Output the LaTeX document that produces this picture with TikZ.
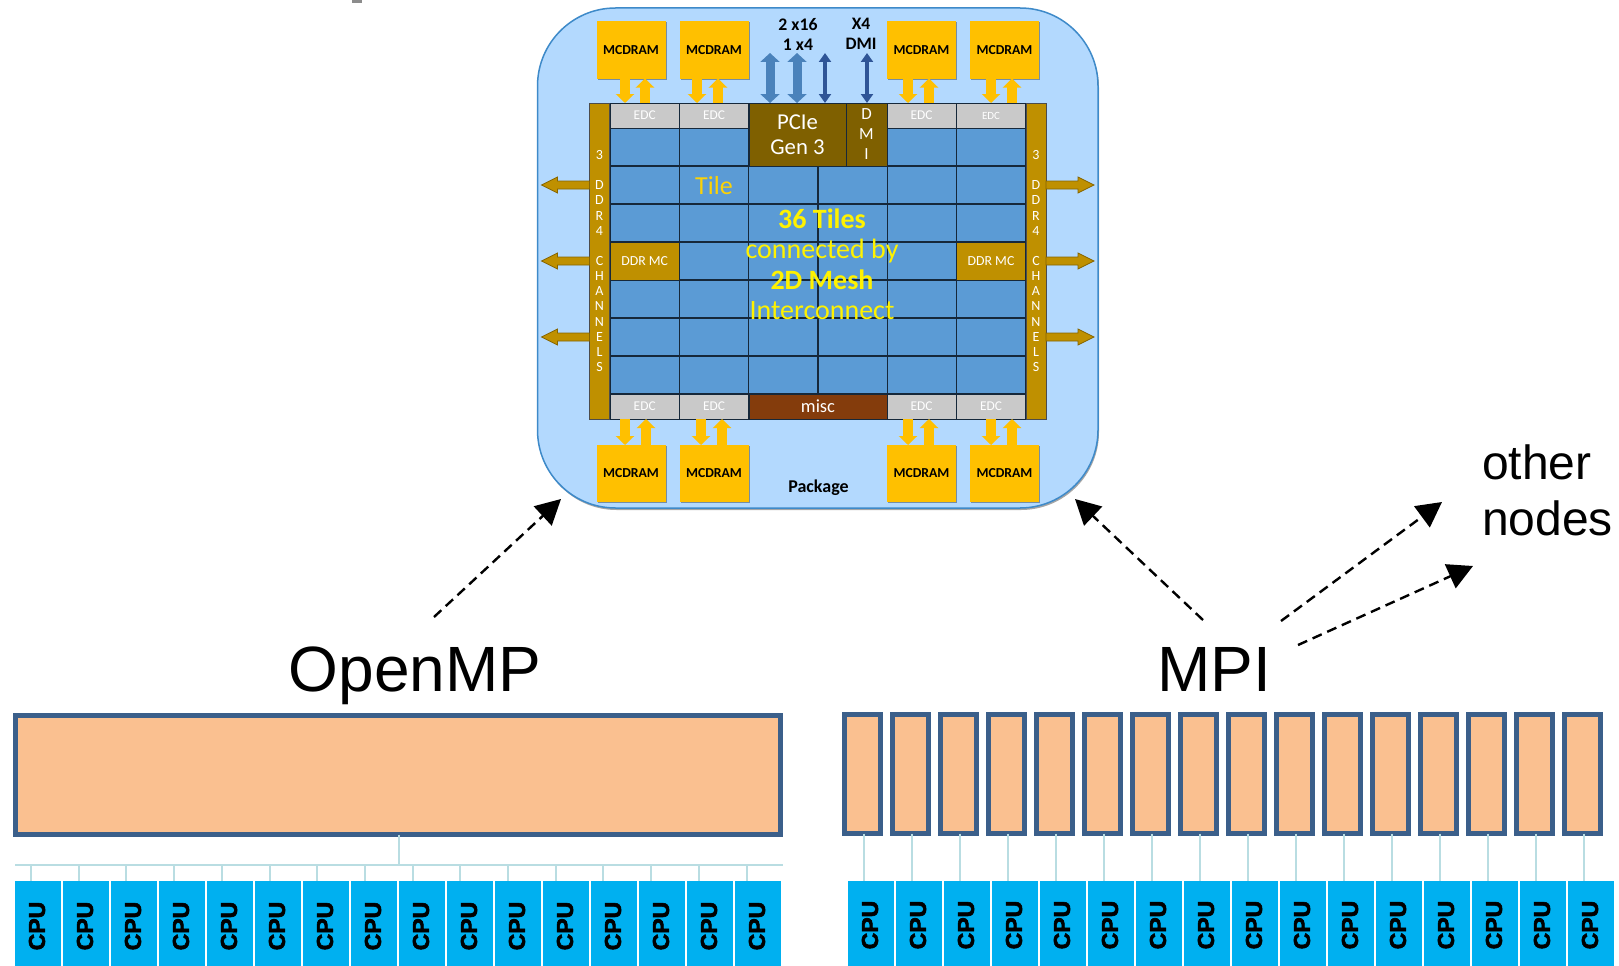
\documentclass[tikz,border=0pt]{standalone}
\usepackage{fontspec}
\setmainfont{Liberation Sans}
\newfontfamily\calib{Carlito}
\newfontfamily\heavy[BoldFeatures={FakeBold=2.5}]{Liberation Sans}
\usetikzlibrary{arrows.meta,positioning,calc,shadows}
\definecolor{pkgfill}{HTML}{B3D9FE}
\definecolor{pkgline}{HTML}{3E8AC9}
\definecolor{tileblue}{HTML}{5B9BD5}
\definecolor{gold}{HTML}{FFC000}
\definecolor{ddrgold}{HTML}{BF9000}
\definecolor{pciebrown}{HTML}{7F6000}
\definecolor{miscbrown}{HTML}{843C0C}
\definecolor{edcgrey}{HTML}{C9C9C9}
\definecolor{corefill}{HTML}{FAC090}
\definecolor{coreline}{HTML}{3B5F8A}
\definecolor{cpublue}{HTML}{00B0F0}
\definecolor{wireblue}{HTML}{B9DDE2}
\definecolor{gridline}{HTML}{16283A}
\definecolor{pciearrow}{HTML}{4A82BB}
\definecolor{dmiarrow}{HTML}{2F5597}
\newcommand{\fsize}[1]{\fontsize{#1}{#1}\selectfont}

\begin{document}
\begin{tikzpicture}[
  x=1pt,y=-1pt,
  every node/.style={inner sep=0pt,outer sep=0pt},
  mcdram/.style={fill=gold,minimum width=69pt,minimum height=57pt,font=\calib\bfseries\fsize{13.7},
    drop shadow={shadow xshift=1pt,shadow yshift=-1pt,opacity=0.35,fill=black}},
  edc/.style={fill=edcgrey,draw=gridline,line width=0.8pt,minimum width=69.3pt,minimum height=25pt,text=white,font=\calib\fsize{13.4}},
  brownbox/.style={draw=gridline,line width=0.8pt,text=white,align=center,font=\calib},
  sidebar/.style={fill=ddrgold,draw=black!70,line width=0.8pt,minimum width=20pt,minimum height=316pt},
  sidetext/.style={text=white,align=center,font=\calib\fontsize{14}{15.15}\selectfont},
  tile/.style={fill=tileblue,draw=gridline,line width=1.2pt},
  yarr/.style={-{Triangle[length=9pt,width=18pt]},line width=10pt,gold},
  pciearr/.style={{Triangle[length=9pt,width=19pt]}-{Triangle[length=9pt,width=19pt]},line width=9pt,pciearrow},
  dmiarr/.style={{Triangle[length=9pt,width=12pt]}-{Triangle[length=9pt,width=12pt]},line width=4pt,dmiarrow},
  ddrarr/.style={fill=ddrgold,draw=ddrgold!70!black,line width=0.7pt},
  meshtext/.style={text=yellow,font=\calib\fsize{28}},
  dasharr/.style={line width=2.4pt,dash pattern=on 10pt off 6pt,-{Triangle[length=25pt,width=26pt]}},
  core/.style={fill=corefill,draw=coreline,line width=5pt},
  cpu/.style={fill=cpublue,minimum width=46pt,minimum height=85pt},
  wire/.style={wireblue,line width=2pt},
  cputext/.style={rotate=90,font=\heavy\bfseries\fsize{23}}
]
\useasboundingbox (0,0) rectangle (1619,966);
\fill[black!45] (352,0) rectangle (362,3);

% package outline
\draw[fill=pkgfill,draw=pkgline,line width=1.5pt,rounded corners=78pt,
  drop shadow={shadow xshift=1pt,shadow yshift=-2pt,opacity=0.35,fill=black}] (537.5,8) rectangle (1098,508);

% tiles
\foreach \c in {0,...,5}
  \foreach \r in {0,...,6}
    \draw[tile] ({610+69.33*\c},{128+38*\r}) rectangle ++(69.33,38);

% borders of the die
\node[sidebar] (barL) at (599.5,261) {};
\node[sidebar] (barR) at (1036,261) {};
\node[sidetext] (chanL) at (599.5,261) {3\\ \\D\\D\\R\\4\\ \\C\\H\\A\\N\\N\\E\\L\\S};
\node[sidetext] (chanR) at (1036,261) {3\\ \\D\\D\\R\\4\\ \\C\\H\\A\\N\\N\\E\\L\\S};

\node[edc] (edcT1) at (644.7,115.5) {\raisebox{-0.5pt}{EDC}};
\node[edc] (edcT2) at (714,115.5) {\raisebox{-0.5pt}{EDC}};
\node[edc] (edcT3) at (921.5,115.5) {\raisebox{-0.5pt}{EDC}};
\node[edc,font=\calib\fsize{11}] (edcT4) at (991,115.5) {\raisebox{-0.5pt}{EDC}};
\node[edc] (edcB1) at (644.7,406.5) {\raisebox{-0.5pt}{EDC}};
\node[edc] (edcB2) at (714,406.5) {\raisebox{-0.5pt}{EDC}};
\node[edc] (edcB3) at (921.5,406.5) {\raisebox{-0.5pt}{EDC}};
\node[edc] (edcB4) at (991,406.5) {\raisebox{-0.5pt}{EDC}};

\node[brownbox,fill=pciebrown,minimum width=97pt,minimum height=63pt,font=\calib\fontsize{22.7}{25.5}\selectfont] (pcie) at (797.5,134.5) {PCIe\\Gen 3};
\node[brownbox,fill=pciebrown,minimum width=41pt,minimum height=63pt,font=\calib\fontsize{17}{20}\selectfont] (dmibox) at (866.5,134.5) {D\\M\\I};
\node[brownbox,fill=ddrgold,minimum width=69.3pt,minimum height=38pt,font=\calib\fsize{13.8}] (ddrL) at (644.7,261) {DDR MC};
\node[brownbox,fill=ddrgold,minimum width=69.3pt,minimum height=38pt,font=\calib\fsize{13.8}] (ddrR) at (991,261) {DDR MC};
\node[brownbox,fill=miscbrown,minimum width=138pt,minimum height=25pt,font=\calib\fsize{18.5}] (misc) at (818,406.5) {\raisebox{-0.7pt}{misc}};

% memory
\node[mcdram] (mcT1) at (631,50) {MCDRAM};
\node[mcdram] (mcT2) at (714,50) {MCDRAM};
\node[mcdram] (mcT3) at (921.5,50) {MCDRAM};
\node[mcdram] (mcT4) at (1004.5,50) {MCDRAM};
\node[mcdram] (mcB1) at (631,473.5) {MCDRAM};
\node[mcdram] (mcB2) at (714,473.5) {MCDRAM};
\node[mcdram] (mcB3) at (921.5,473.5) {MCDRAM};
\node[mcdram] (mcB4) at (1004.5,473.5) {MCDRAM};

\foreach \i/\d/\u in {1/-6/14,2/-17/4,3/-13.5/7.5,4/-13.5/7.5} {
  \draw[yarr] ([xshift=\d pt]mcT\i.south) -- ([xshift=\d pt]mcT\i.south |- edcT\i.north);
  \draw[yarr] ([xshift=\u pt]mcT\i.south |- edcT\i.north) -- ([xshift=\u pt]mcT\i.south);
}
\foreach \i/\d/\u in {1/-6/15,2/-13/8,3/-13.5/7.5,4/-13.5/7.5} {
  \draw[yarr] ([xshift=\d pt]mcB\i.north |- edcB\i.south) -- ([xshift=\d pt]mcB\i.north);
  \draw[yarr] ([xshift=\u pt]mcB\i.north) -- ([xshift=\u pt]mcB\i.north |- edcB\i.south);
}

% io arrows
\coordinate (ioA) at (770,53);
\coordinate (ioB) at (797,53);
\coordinate (ioC) at (825,53);
\coordinate (ioD) at (867,53);
\draw[pciearr] (ioA) -- (ioA |- pcie.north);
\draw[pciearr] (ioB) -- (ioB |- pcie.north);
\draw[dmiarr] (ioC) -- (ioC |- pcie.north);
\draw[dmiarr] (ioD) -- (ioD |- dmibox.north);
\foreach \y in {185,261,337} {
  \draw[ddrarr] (barL.west |- 0,\y) -- ++(0,-4) -- ++(-32,0) -- ++(0,-4) -- ++(-16,8) -- ++(16,8) -- ++(0,-4) -- ++(32,0) -- cycle;
  \draw[ddrarr] (barR.east |- 0,\y) -- ++(0,-4) -- ++(32,0) -- ++(0,-4) -- ++(16,8) -- ++(-16,8) -- ++(0,-4) -- ++(-32,0) -- cycle;
}

\node[font=\calib\bfseries\fontsize{17.7}{20}\selectfont,align=center] (pcielabel) at (798,34) {2 x16\\1 x4};
\node[font=\calib\bfseries\fontsize{17.5}{19.5}\selectfont,align=center] (dmilabel) at (861,34) {X4\\DMI};
\node[font=\calib\bfseries\fsize{18}] (pkglabel) at (818.5,488) {Package};
\node[text=yellow!70!orange,font=\calib\fsize{26}] (tilelabel) at (714,186) {Tile};
\node[meshtext,font=\calib\bfseries\fsize{28}] (mesh1) at (822,219) {36 Tiles};
\node[meshtext] (mesh2) at (822,251) {connected by};
\node[meshtext,font=\calib\bfseries\fsize{28}] (mesh3) at (822,280) {2D Mesh};
\node[meshtext] (mesh4) at (822,311) {Interconnect};

% programming models
\node[font=\fsize{64}] (openmp) at (415,676) {OpenMP};
\node[font=\fsize{64}] (mpi) at (1214,669) {MPI};
\node[font=\fontsize{48}{56}\selectfont,align=left,anchor=west] (others) at (1482,490) {other\\nodes};

\coordinate (pkgSW) at (561,499);
\coordinate (pkgSE) at (1075,499);
\coordinate (otherA) at (1442,502);
\coordinate (otherB) at (1473,566);
\coordinate (ompTail) at (434,617);
\coordinate (mpiTailA) at (1203,620);
\coordinate (mpiTailB) at (1281,621);
\coordinate (mpiTailC) at (1298,645);
\draw[dasharr] (ompTail) -- (pkgSW);
\draw[dasharr] (mpiTailA) -- (pkgSE);
\draw[dasharr] (mpiTailB) -- (otherA);
\draw[dasharr] (mpiTailC) -- (otherB);

% shared memory side
\node[core,minimum width=765pt,minimum height=119pt] (shared) at (397.5,775) {};
\coordinate (busL) at (15,865);
\coordinate (busR) at (783,865);
\draw[wire] (busL) -- (busR);
\draw[wire] ([xshift=1pt]shared.south) -- ([xshift=1pt]shared.south |- busL);
\foreach \i in {0,...,15} {
  \node[cpu] (cpuL\i) at ({38+48*\i},923.5) {};
  \node[cputext] (txtL\i) at ({37+48*\i},926) {CPU};
  \coordinate (tapL\i) at ({31+47.7*\i},865);
  \draw[wire] (tapL\i) -- (tapL\i |- cpuL\i.north);
}

% distributed side
\foreach \i in {0,...,15} {
  \node[core,minimum width=36pt,minimum height=119pt] (proc\i) at ({862+48*\i},774) {};
  \node[cpu] (cpuR\i) at ({871+48*\i},923) {};
  \node[cputext] (txtR\i) at ({870+48*\i},925) {CPU};
  \draw[wire] ([xshift=2pt]proc\i.south) -- ([xshift=2pt]proc\i.south |- cpuR\i.north);
}
\end{tikzpicture}
\end{document}
